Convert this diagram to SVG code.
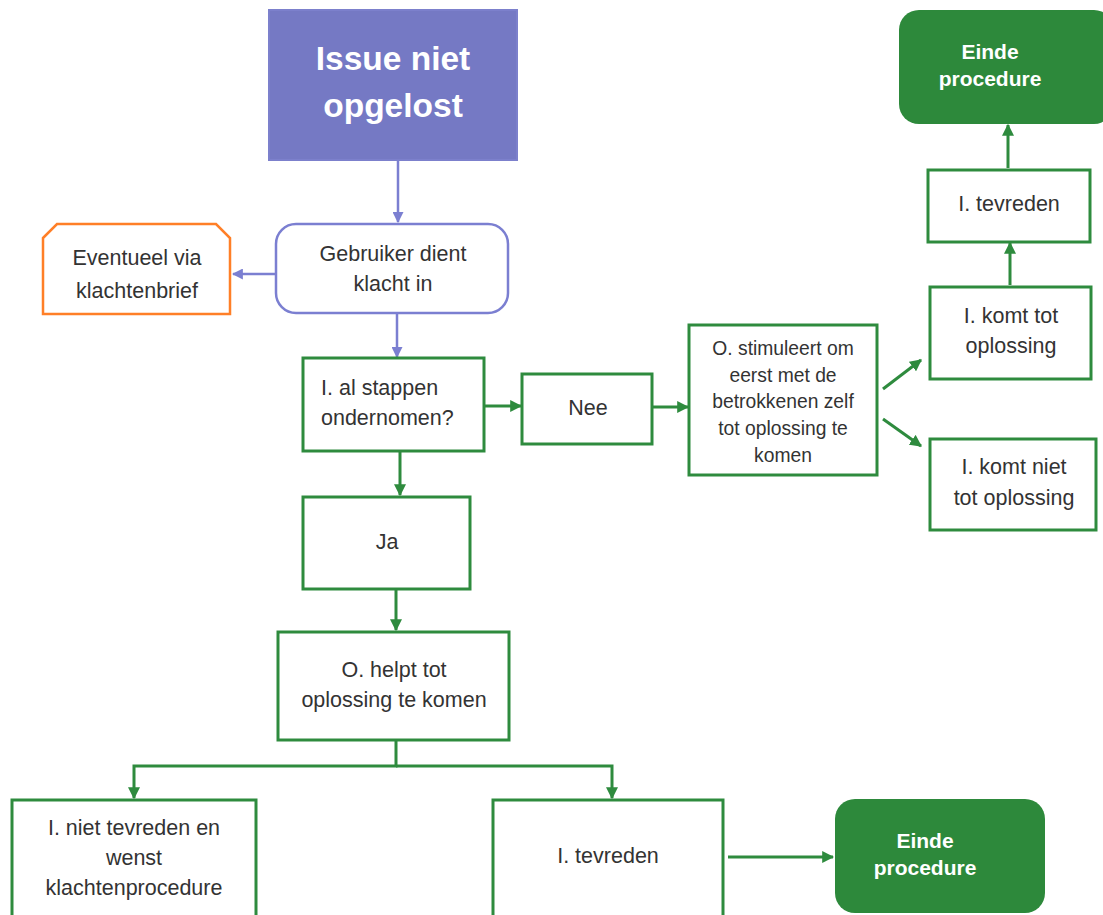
<svg xmlns="http://www.w3.org/2000/svg" width="1103" height="915" viewBox="0 0 1103 915">
<style>
.t{font-family:"Liberation Sans",Arial,sans-serif;font-size:21.5px;fill:#333;text-anchor:middle}
.s{font-size:19.3px}
.l{text-anchor:start}
.w{font-family:"Liberation Sans",Arial,sans-serif;font-weight:bold;fill:#fff;text-anchor:middle}
.e{font-size:21px}
.g{fill:#fff;stroke:#2E8B3E;stroke-width:3}
.p{fill:none;stroke:#7B7FD1;stroke-width:2.5}
.gl{fill:none;stroke:#2E8B3E;stroke-width:3}
.pl{fill:none;stroke:#7B7FD1;stroke-width:2.5}
</style>
<defs>
<marker id="ag" viewBox="0 0 10 10" refX="9" refY="5" markerWidth="4" markerHeight="4" markerUnits="strokeWidth" orient="auto"><path d="M0,0L10,5L0,10z" fill="#2E8B3E"/></marker>
<marker id="ap" viewBox="0 0 10 10" refX="9" refY="5" markerWidth="4.4" markerHeight="4.4" markerUnits="strokeWidth" orient="auto"><path d="M0,0L10,5L0,10z" fill="#7B7FD1"/></marker>
</defs>
<rect width="1103" height="915" fill="#fff"/>
<g id="connectors">
<path class="pl" d="M398,161V222" marker-end="url(#ap)"/>
<path class="pl" d="M276,274H233" marker-end="url(#ap)"/>
<path class="pl" d="M397,314V357" marker-end="url(#ap)"/>
<path class="gl" d="M485,406H521" marker-end="url(#ag)"/>
<path class="gl" d="M653,407H688" marker-end="url(#ag)"/>
<path class="gl" d="M883,389L921,360" marker-end="url(#ag)"/>
<path class="gl" d="M883,419L921,446" marker-end="url(#ag)"/>
<path class="gl" d="M1010,285V243" marker-end="url(#ag)"/>
<path class="gl" d="M1008,168V125" marker-end="url(#ag)"/>
<path class="gl" d="M400,452V495" marker-end="url(#ag)"/>
<path class="gl" d="M396,590V630" marker-end="url(#ag)"/>
<path class="gl" d="M396,741V766H134V798" marker-end="url(#ag)"/>
<path class="gl" d="M396,766H612V798" marker-end="url(#ag)"/>
<path class="gl" d="M728,857H833" marker-end="url(#ag)"/>
</g>
<g id="issue">
<rect x="269" y="10" width="248" height="150" fill="#7579C4" stroke="#7C80CC" stroke-width="2"/>
<text class="w" x="393" y="70" font-size="33.5">Issue niet</text>
<text class="w" x="393" y="117" font-size="33.5">opgelost</text>
</g>
<g id="gebruiker">
<rect class="p" x="276" y="224" width="232" height="89" rx="20" fill="#fff"/>
<text class="t" x="393" y="261">Gebruiker dient</text>
<text class="t" x="393" y="291">klacht in</text>
</g>
<g id="eventueel">
<path d="M43,238L57,224H216L230,238V314H43Z" fill="#fff" stroke="#FF7F27" stroke-width="2.5"/>
<text class="t" x="137" y="265">Eventueel via</text>
<text class="t" x="137" y="298">klachtenbrief</text>
</g>
<g id="stappen">
<rect class="g" x="303" y="358" width="181" height="93"/>
<text class="t l" x="321" y="395">I. al stappen</text>
<text class="t l" x="321" y="425">ondernomen?</text>
</g>
<g id="nee">
<rect class="g" x="522" y="374" width="130" height="70"/>
<text class="t" x="588" y="415">Nee</text>
</g>
<g id="stimuleert">
<rect class="g" x="689" y="325" width="188" height="150"/>
<text class="t s" x="783" y="355">O. stimuleert om</text>
<text class="t s" x="783" y="382">eerst met de</text>
<text class="t s" x="783" y="408">betrokkenen zelf</text>
<text class="t s" x="783" y="435">tot oplossing te</text>
<text class="t s" x="783" y="462">komen</text>
</g>
<g id="komt-tot">
<rect class="g" x="930" y="287" width="161" height="92"/>
<text class="t" x="1011" y="323">I. komt tot</text>
<text class="t" x="1011" y="353">oplossing</text>
</g>
<g id="komt-niet">
<rect class="g" x="930" y="439" width="166" height="91"/>
<text class="t" x="1014" y="474">I. komt niet</text>
<text class="t" x="1014" y="505">tot oplossing</text>
</g>
<g id="tevreden-top">
<rect class="g" x="928" y="170" width="162" height="72"/>
<text class="t" x="1009" y="211">I. tevreden</text>
</g>
<g id="einde-top">
<rect x="899" y="10" width="215" height="114" rx="20" fill="#2D893B"/>
<text class="w e" x="990" y="59">Einde</text>
<text class="w e" x="990" y="86">procedure</text>
</g>
<g id="ja">
<rect class="g" x="303" y="497" width="167" height="92"/>
<text class="t" x="387" y="549">Ja</text>
</g>
<g id="helpt">
<rect class="g" x="278" y="632" width="231" height="108"/>
<text class="t" x="394" y="677">O. helpt tot</text>
<text class="t" x="394" y="707">oplossing te komen</text>
</g>
<g id="niet-tevreden">
<rect class="g" x="12" y="800" width="244" height="130"/>
<text class="t" x="134" y="835">I. niet tevreden en</text>
<text class="t" x="134" y="865">wenst</text>
<text class="t" x="134" y="895">klachtenprocedure</text>
</g>
<g id="tevreden-bottom">
<rect class="g" x="493" y="800" width="230" height="130"/>
<text class="t" x="608" y="863">I. tevreden</text>
</g>
<g id="einde-bottom">
<rect x="835" y="799" width="210" height="114" rx="20" fill="#2D893B"/>
<text class="w e" x="925" y="848">Einde</text>
<text class="w e" x="925" y="875">procedure</text>
</g>
</svg>
